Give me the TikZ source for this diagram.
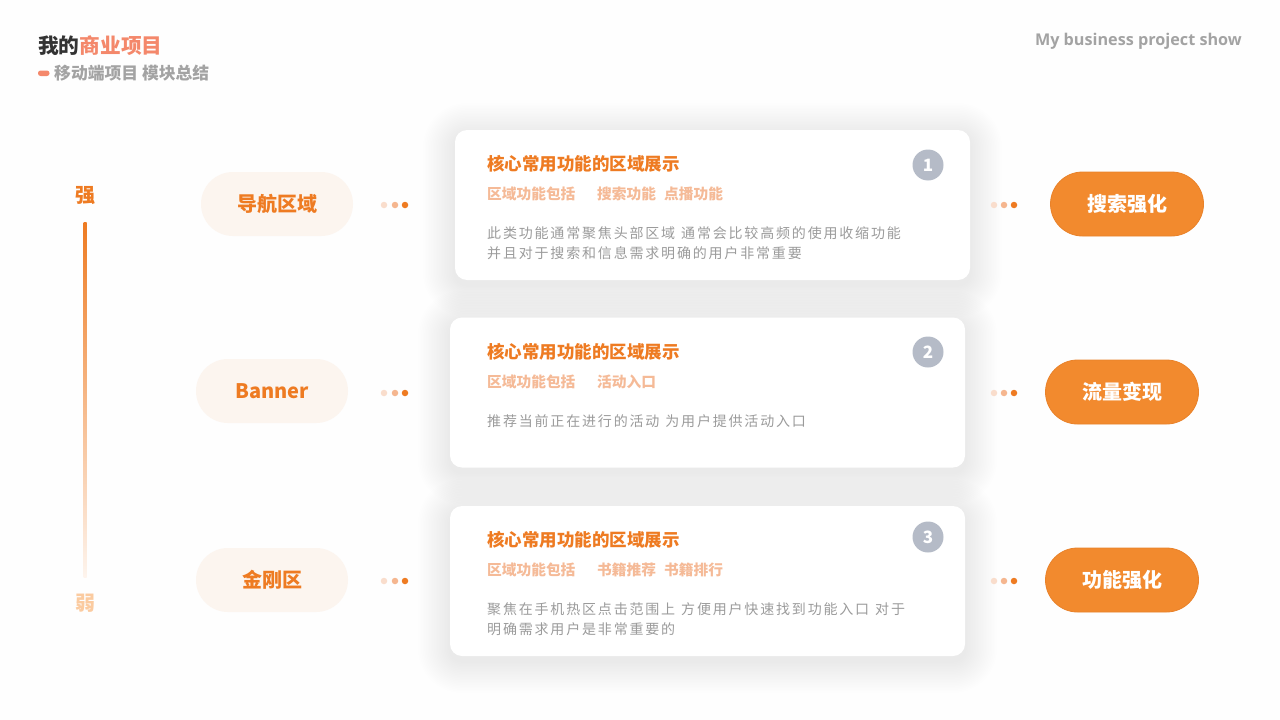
\documentclass[tikz,border=0pt]{standalone}
\usepackage{fontspec}
\setmainfont{Noto Sans CJK SC}
\newfontfamily\latinfont{Open Sans}
\newfontfamily\descfont{Noto Sans CJK SC}[LetterSpace=13]
\definecolor{bgc}{HTML}{FEFEFE}
\definecolor{mainor}{HTML}{EE7B22}
\definecolor{pillor}{HTML}{F28A2E}
\definecolor{pillbd}{HTML}{E9822A}
\definecolor{salmon}{HTML}{F4886B}
\definecolor{darktx}{HTML}{333333}
\definecolor{subgray}{HTML}{A3A3A3}
\definecolor{lightor}{HTML}{F5BA97}
\definecolor{descgray}{HTML}{9B9B9B}
\definecolor{numc}{HTML}{B5BBC7}
\definecolor{lpillc}{HTML}{FCF5EF}
\definecolor{weakc}{HTML}{FBCBA0}
\definecolor{dotA}{HTML}{F9DDCC}
\definecolor{dotB}{HTML}{F5B68F}
\definecolor{dotC}{HTML}{EE7B22}
\newcommand\softshadow[6]{% cx cy w h r steps
  \foreach \i in {1,...,#6}{
    \fill[black, opacity=0.0028, rounded corners={#5+\i*1.6pt}]
      ({#1-#3/2-\i*1.6},{#2-#4/2-\i*1.6+5}) rectangle ({#1+#3/2+\i*1.6},{#2+#4/2+\i*1.6+5});
  }}
\tikzset{
  card/.style={rounded corners=12pt, fill=white, minimum width=515pt, minimum height=150pt},
  lpill/.style={rounded corners=32pt, fill=lpillc, minimum width=152pt, minimum height=64pt,
    text=mainor, font=\fontsize{20pt}{24pt}\selectfont\bfseries},
  rpill/.style={rounded corners=32pt, fill=pillor, draw=pillbd, line width=0.8pt, minimum width=153pt, minimum height=64pt,
    text=white, font=\fontsize{20pt}{24pt}\selectfont\bfseries},
  ttl/.style={anchor=west, inner sep=0pt, text=mainor, font=\fontsize{17.5pt}{21pt}\selectfont\bfseries},
  subtx/.style={anchor=west, inner sep=0pt, text=lightor, font=\fontsize{14.7pt}{18pt}\selectfont\bfseries},
  desctx/.style={anchor=west, inner sep=0pt, text=descgray, align=left, font=\descfont\fontsize{14pt}{20pt}\selectfont},
  numcirc/.style={circle, fill=numc, minimum size=31pt, inner sep=0pt, text=white, font=\fontsize{17pt}{20pt}\selectfont\bfseries},
  dotn/.style={circle, minimum size=6.5pt, inner sep=0pt},
}
\begin{document}
\begin{tikzpicture}[x=1pt,y=-1pt]
\fill[bgc] (0,0) rectangle (1280,720);
\useasboundingbox (0,0) rectangle (1280,720);

% header
\node[anchor=west, inner sep=0pt, font=\fontsize{20.7pt}{24pt}\selectfont\bfseries] (title) at (38,46) {\textcolor{darktx}{我的}\textcolor{salmon}{商业项目}};
\fill[salmon, rounded corners=2.6pt] (38,70.5) rectangle (49.5,76);
\node[anchor=west, inner sep=0pt, text=subgray, font=\fontsize{16.8pt}{20pt}\selectfont\bfseries] (subtitle) at (54,73) {移动端项目 模块总结};
\node[anchor=east, inner sep=0pt, text=subgray, font=\latinfont\fontsize{16.2pt}{19pt}\selectfont\bfseries] (eng) at (1242,41) {My business project show};

% strength scale
\node[inner sep=0pt, text=mainor, font=\fontsize{20pt}{24pt}\selectfont\bfseries] (strong) at (85,196) {强};
\node[inner sep=0pt, text=weakc, font=\fontsize{20pt}{24pt}\selectfont\bfseries] (weak) at (85,603) {弱};
\shade[top color=mainor, bottom color=mainor!8] (83.5,222) rectangle (86.5,577);

% card shadows
\softshadow{712.5}{205}{515}{150}{12}{20}
\softshadow{707.5}{392.5}{515}{150}{12}{20}
\softshadow{707.5}{581}{515}{150}{12}{20}

% cards
\node[card] (c1) at (712.5,205) {};
\node[card] (c2) at (707.5,392.5) {};
\node[card] (c3) at (707.5,581) {};

% card 1
\node[ttl] (t1) at (487,164) {核心常用功能的区域展示};
\node[subtx] (s1a) at (487,194) {区域功能包括};
\node[subtx] (s1b) at (597,194) {搜索功能};
\node[subtx] (s1c) at (664,194) {点播功能};
\node[desctx] (d1) at (487,243) {此类功能通常聚焦头部区域\hspace{6pt}通常会比较高频的使用收缩功能\\并且对于搜索和信息需求明确的用户非常重要};
\node[numcirc] (n1) at (928,165) {1};

% card 2
\node[ttl] (t2) at (487,352) {核心常用功能的区域展示};
\node[subtx] (s2a) at (487,382) {区域功能包括};
\node[subtx] (s2b) at (597,382) {活动入口};
\node[desctx] (d2) at (487,421) {推荐当前正在进行的活动\hspace{6pt}为用户提供活动入口};
\node[numcirc] (n2) at (928,352) {2};

% card 3
\node[ttl] (t3) at (487,540) {核心常用功能的区域展示};
\node[subtx] (s3a) at (487,570) {区域功能包括};
\node[subtx] (s3b) at (597,570) {书籍推荐};
\node[subtx] (s3c) at (664,570) {书籍排行};
\node[desctx] (d3) at (487,619) {聚焦在手机热区点击范围上\hspace{6pt}方便用户快速找到功能入口\hspace{6pt}对于\\明确需求用户是非常重要的};
\node[numcirc] (n3) at (928,537) {3};

% left pills
\node[lpill] (l1) at (277,204) {导航区域};
\node[lpill] (l2) at (272,391) {Banner};
\node[lpill] (l3) at (272,580) {金刚区};

% right pills
\node[rpill] (r1) at (1127,204) {搜索强化};
\node[rpill] (r2) at (1122,392) {流量变现};
\node[rpill] (r3) at (1122,580) {功能强化};

% dots
\foreach \y/\n in {205/1,393/2,581/3}{
  \node[dotn, fill=dotA] (la\n) at (384,\y) {};
  \node[dotn, fill=dotB] (lb\n) at (395,\y) {};
  \node[dotn, fill=dotC] (lc\n) at (405,\y) {};
  \node[dotn, fill=dotA] (ra\n) at (994,\y) {};
  \node[dotn, fill=dotB] (rb\n) at (1004,\y) {};
  \node[dotn, fill=dotC] (rc\n) at (1014,\y) {};
}
\end{tikzpicture}
\end{document}
